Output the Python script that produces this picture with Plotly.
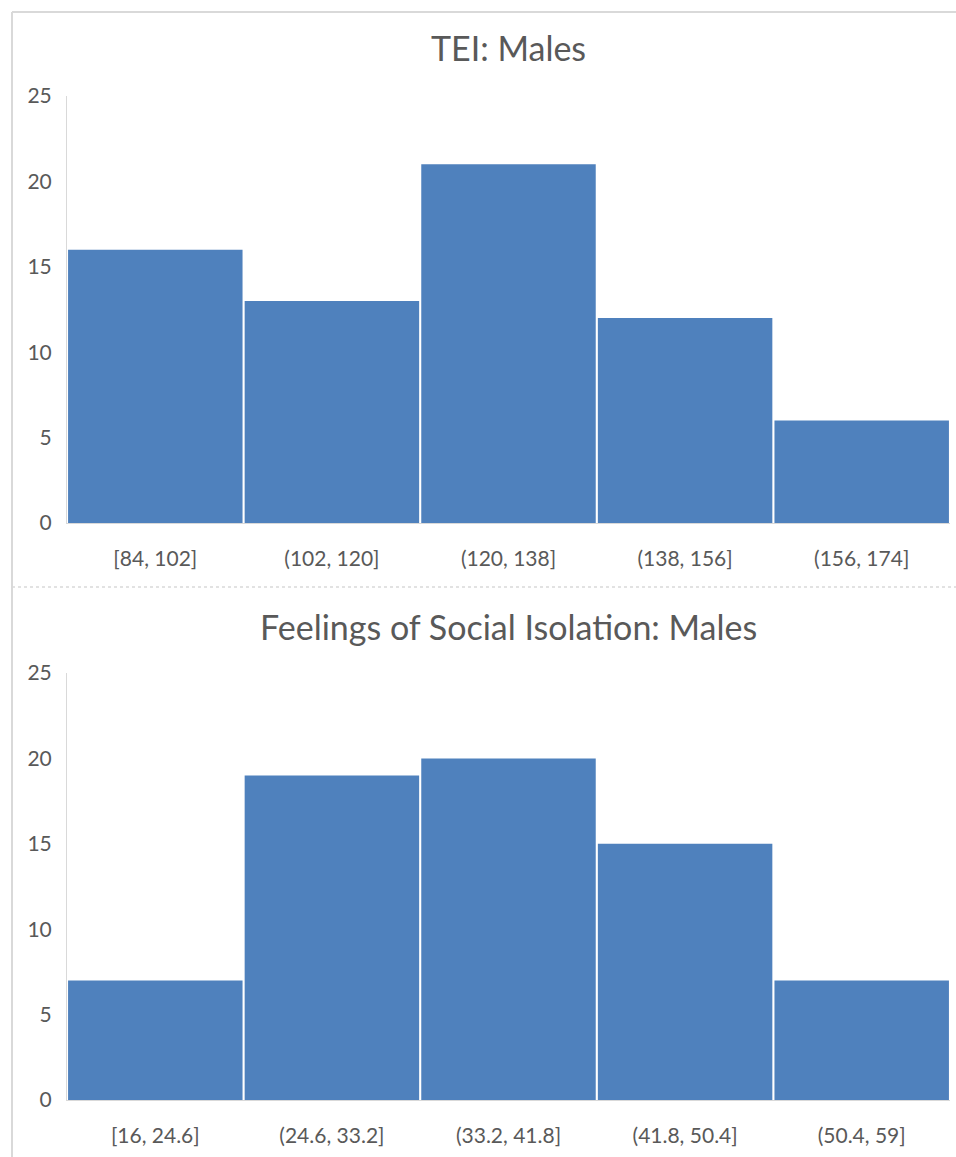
import plotly.graph_objects as go

W, H = 956, 1157

tei_bins = ["[84, 102]", "(102, 120]", "(120, 138]", "(138, 156]", "(156, 174]"]
tei_counts = [16, 13, 21, 12, 6]

fsi_bins = ["[16, 24.6]", "(24.6, 33.2]", "(33.2, 41.8]", "(41.8, 50.4]", "(50.4, 59]"]
fsi_counts = [7, 19, 20, 15, 7]

titles = ["TEI: Males", "Feelings of Social Isolation: Males"]

BAR = "#4F81BD"
TXT = "#595959"
LINE = "#D9D9D9"
FONT = "Lato"

def py(p):
    return 1 - p / H

def px(p):
    return p / W

fig = go.Figure()
fig.add_trace(go.Bar(x=tei_bins, y=tei_counts, marker=dict(color=BAR, line=dict(width=0)),
                     xaxis="x", yaxis="y", showlegend=False, hoverinfo="skip"))
fig.add_trace(go.Bar(x=fsi_bins, y=fsi_counts, marker=dict(color=BAR, line=dict(width=0)),
                     xaxis="x2", yaxis="y2", showlegend=False, hoverinfo="skip"))

xdom = [px(67), px(950)]
axis_common_x = dict(domain=xdom, showgrid=False, showline=True, linecolor=LINE, linewidth=1,
                     ticks="", tickfont=dict(family=FONT, size=21, color=TXT),
                     ticklabelstandoff=17, fixedrange=True, automargin=False)
axis_common_y = dict(range=[0, 25], dtick=5, showgrid=False, showline=True, linecolor=LINE,
                     linewidth=1, ticks="", zeroline=False,
                     tickfont=dict(family=FONT, size=21, color=TXT),
                     ticklabelstandoff=10, fixedrange=True, automargin=False)

fig.update_layout(
    width=W, height=H,
    margin=dict(l=0, r=0, t=0, b=0, autoexpand=False),
    paper_bgcolor="white", plot_bgcolor="white",
    bargap=0.012,
    showlegend=False,
    xaxis=dict(anchor="y", **axis_common_x),
    yaxis=dict(anchor="x", domain=[py(523), py(96)], **axis_common_y),
    xaxis2=dict(anchor="y2", **axis_common_x),
    yaxis2=dict(anchor="x2", domain=[py(1100), py(673)], **axis_common_y),
)

for t, yc in zip(titles, [48, 626]):
    fig.add_annotation(text=t, x=px(508), y=py(yc), xref="paper", yref="paper",
                       xanchor="center", yanchor="middle", showarrow=False,
                       font=dict(family=FONT, size=34, color=TXT))

# chart frames
shapes = [
    dict(type="line", xref="paper", yref="paper", x0=px(12), x1=1.0, y0=py(12), y1=py(12),
         line=dict(color=LINE, width=2)),
    dict(type="line", xref="paper", yref="paper", x0=px(12), x1=px(12), y0=py(12), y1=0.0,
         line=dict(color=LINE, width=2)),
    dict(type="line", xref="paper", yref="paper", x0=px(12), x1=1.0, y0=py(587), y1=py(587),
         line=dict(color=LINE, width=1.5, dash="dot")),
]
fig.update_layout(shapes=shapes)

fig.write_html(
    "out.html",
    config={"displayModeBar": False, "staticPlot": True},
    post_script="document.body.style.margin='0';document.body.style.overflow='hidden';",
)
